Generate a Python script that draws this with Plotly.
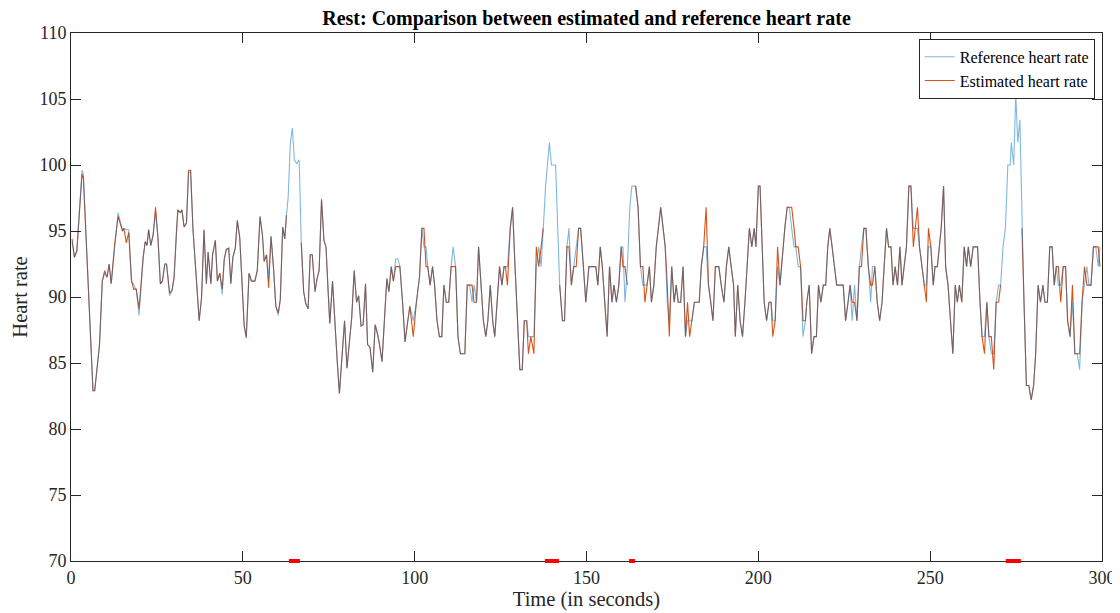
import plotly.graph_objects as go

# time (s), reference HR, estimated HR (None = no estimate)
t_sec = [0.3, 1.0, 1.7, 3.2, 3.6, 6.4, 6.9, 8.3, 9.1, 9.8, 10.5, 11.1, 11.7, 12.7, 13.7, 15.0, 15.4, 16.1, 16.8, 17.6,
         18.2, 19.0, 19.8, 21.0, 21.6, 22.1, 22.6, 23.2, 23.9, 24.6, 25.3, 26.0, 26.6, 27.3, 27.8, 28.7, 29.4, 30.0, 30.7, 31.1,
         31.8, 32.3, 32.9, 33.6, 34.2, 34.8, 35.5, 36.5, 37.3, 38.0, 38.7, 39.4, 39.9, 40.7, 41.2, 42.0, 42.6, 43.3, 44.0, 44.6,
         45.2, 45.9, 46.5, 47.1, 47.8, 48.4, 49.1, 50.4, 51.0, 51.8, 52.5, 53.5, 54.2, 55.0, 55.7, 56.2, 56.9, 57.5, 58.2, 58.9,
         59.6, 60.3, 60.9, 61.6, 62.2, 62.7, 63.2, 63.8, 64.4, 65.0, 65.7, 66.4, 67.0, 67.7, 68.3, 69.0, 69.6, 70.2, 71.0, 71.6,
         72.2, 72.9, 73.6, 74.2, 74.8, 75.3, 76.1, 76.8, 77.5, 78.1, 78.8, 79.6, 80.3, 81.0, 81.7, 82.4, 83.1, 83.7, 84.4, 85.0,
         85.7, 86.3, 87.0, 87.8, 88.5, 89.1, 89.7, 90.5, 91.1, 91.9, 92.5, 93.2, 93.8, 94.5, 95.1, 95.7, 96.5, 97.2, 97.9, 98.6,
         99.6, 100.5, 101.4, 102.1, 102.7, 103.3, 103.8, 104.5, 105.2, 105.8, 106.5, 107.2, 107.9, 108.5, 109.2, 109.9, 110.6, 111.2, 111.9, 112.6,
         113.3, 114.0, 114.6, 115.3, 116.0, 116.7, 117.3, 118.0, 118.6, 119.3, 120.0, 120.7, 121.3, 122.0, 122.7, 123.3, 124.0, 124.7, 125.4, 126.0,
         126.4, 127.0, 127.8, 128.5, 129.2, 129.9, 130.6, 131.3, 131.9, 132.6, 133.1, 133.8, 134.7, 135.4, 136.1, 136.8, 137.4, 138.1, 139.2, 139.8,
         141.0, 142.2, 143.0, 143.6, 144.3, 144.9, 145.6, 146.3, 147.0, 147.7, 148.3, 149.1, 149.8, 150.7, 151.3, 152.7, 153.3, 154.0, 154.6, 155.3,
         156.0, 156.7, 157.4, 158.0, 158.7, 159.4, 160.1, 160.6, 161.2, 161.9, 162.6, 163.2, 164.3, 165.0, 165.7, 166.4, 167.0, 167.6, 168.3, 168.9,
         169.6, 170.3, 170.9, 171.6, 172.3, 172.9, 173.5, 174.1, 174.8, 175.5, 176.1, 176.7, 177.4, 178.1, 178.8, 179.4, 180.0, 180.7, 181.4, 182.8,
         183.4, 184.1, 184.8, 185.5, 186.2, 186.8, 187.5, 188.5, 189.2, 190.0, 190.7, 191.4, 192.1, 192.8, 193.3, 194.0, 194.7, 195.4, 196.1, 196.7,
         197.4, 198.1, 198.8, 199.3, 200.0, 200.5, 201.2, 201.7, 202.4, 203.1, 203.7, 204.2, 204.9, 205.6, 206.3, 207.1, 207.7, 208.4, 209.0, 209.7,
         210.4, 210.9, 211.6, 212.3, 213.0, 213.7, 214.1, 214.8, 215.5, 216.2, 216.9, 217.5, 218.2, 218.9, 219.6, 220.2, 220.8, 221.5, 222.2, 222.8,
         224.7, 225.4, 226.1, 226.7, 227.3, 228.0, 228.7, 229.4, 230.0, 230.7, 231.3, 232.0, 232.7, 233.2, 233.9, 234.6, 235.3, 236.0, 236.6, 237.3,
         237.9, 238.6, 239.2, 239.8, 240.5, 241.2, 241.8, 242.5, 243.1, 243.8, 244.4, 245.1, 246.3, 246.9, 247.6, 248.3, 248.9, 249.5, 250.2, 250.9,
         251.4, 252.1, 253.2, 253.9, 254.5, 255.2, 255.9, 256.6, 257.3, 257.9, 258.5, 259.2, 259.9, 260.6, 261.1, 261.8, 262.5, 263.8, 264.5, 265.1,
         265.8, 266.5, 267.1, 267.8, 268.5, 269.2, 269.9, 270.5, 271.2, 271.9, 272.6, 273.3, 273.6, 274.3, 274.9, 275.5, 276.1, 276.7, 277.3, 278.0,
         278.7, 279.4, 280.1, 280.7, 281.4, 282.1, 282.8, 283.4, 284.1, 284.8, 285.5, 286.1, 286.7, 287.3, 288.0, 288.7, 289.4, 290.0, 290.7, 291.4,
         292.1, 292.8, 293.5, 294.2, 294.9, 295.6, 296.2, 296.8, 297.5, 298.2, 298.9, 299.4]

ref_hr = [94.2, 93.0, 93.5, 99.6, 99.3, 82.9, 82.9, 86.4, 91.2, 91.8, 91.5, 92.5, 91.0, 94.0, 96.4, 95.0, 95.2, 95.1, 95.1, 91.1,
          91.0, 90.5, 88.6, 93.0, 94.2, 93.9, 95.1, 93.9, 94.7, 96.4, 94.5, 91.0, 91.2, 92.5, 92.5, 90.1, 90.5, 91.5, 95.1, 96.6,
          96.4, 96.6, 95.3, 95.6, 99.4, 99.5, 95.1, 91.0, 88.2, 90.0, 95.1, 91.0, 93.4, 91.0, 93.2, 94.3, 91.2, 91.8, 90.2, 92.9,
          93.6, 93.7, 91.0, 93.0, 93.7, 95.8, 94.5, 87.8, 87.0, 91.8, 91.2, 91.2, 92.0, 96.1, 94.7, 92.7, 93.2, 91.4, 94.6, 92.3,
          89.3, 88.6, 89.8, 95.3, 94.4, 96.2, 97.6, 101.6, 102.8, 100.4, 100.1, 100.4, 94.1, 90.4, 89.5, 89.1, 93.2, 93.2, 90.4, 91.4,
          92.0, 97.4, 94.3, 93.8, 90.5, 88.0, 91.2, 87.8, 85.0, 82.7, 85.6, 88.2, 84.6, 86.5, 88.5, 92.0, 89.6, 90.1, 87.8, 87.9,
          91.0, 86.4, 86.2, 84.3, 87.9, 87.3, 86.5, 85.1, 87.8, 91.4, 90.4, 92.3, 91.2, 92.9, 92.9, 92.3, 89.5, 86.6, 88.0, 89.3,
          88.2, 89.6, 91.5, 95.2, 93.8, 93.8, 92.3, 90.9, 92.3, 90.9, 88.2, 87.0, 87.0, 90.9, 89.6, 89.6, 92.3, 93.8, 92.3, 87.0,
          85.7, 85.7, 85.7, 90.9, 90.9, 89.6, 90.9, 89.6, 93.8, 90.9, 88.2, 87.0, 88.2, 90.9, 88.2, 87.0, 89.6, 92.3, 90.9, 92.3,
          92.3, 92.3, 95.2, 96.8, 92.3, 88.2, 84.5, 84.5, 88.2, 88.2, 87.0, 87.0, 87.0, 92.3, 93.8, 92.3, 95.2, 98.4, 101.7, 100.0,
          100.0, 90.9, 88.2, 88.2, 93.8, 95.2, 90.9, 92.3, 93.8, 95.2, 95.2, 92.3, 89.6, 92.3, 92.3, 92.3, 90.9, 93.8, 92.3, 89.6,
          87.0, 92.3, 89.6, 90.9, 89.6, 90.9, 93.8, 93.8, 89.6, 92.3, 96.8, 98.4, 98.4, 96.8, 92.3, 90.9, 90.9, 90.9, 92.3, 89.6,
          90.9, 93.8, 95.2, 96.8, 95.2, 93.8, 89.6, 88.2, 92.3, 89.6, 90.9, 89.6, 89.6, 92.3, 87.0, 88.2, 88.2, 88.2, 89.6, 89.6,
          92.3, 93.8, 93.8, 90.9, 89.6, 88.2, 92.3, 92.3, 90.9, 89.6, 92.3, 93.8, 92.3, 90.9, 87.0, 90.9, 88.2, 87.0, 89.6, 92.3,
          95.2, 93.8, 95.2, 93.8, 98.4, 98.4, 92.3, 89.6, 88.2, 89.6, 89.6, 88.2, 88.2, 92.3, 90.9, 93.8, 95.2, 96.8, 96.8, 95.2,
          93.8, 93.8, 92.3, 92.3, 87.0, 88.2, 89.6, 90.9, 85.7, 87.0, 87.0, 90.9, 89.6, 90.9, 90.9, 93.8, 95.2, 93.8, 92.3, 90.9,
          90.9, 88.2, 89.6, 90.9, 88.2, 90.9, 88.2, 92.3, 93.8, 95.2, 95.2, 92.3, 89.6, 92.3, 92.3, 89.6, 88.2, 89.6, 92.3, 95.2,
          93.8, 93.8, 90.9, 92.3, 90.9, 93.8, 90.9, 92.3, 93.8, 98.4, 98.4, 95.2, 95.2, 93.8, 92.3, 90.9, 90.9, 93.8, 93.8, 90.9,
          92.3, 92.3, 95.2, 98.4, 92.3, 90.9, 88.2, 85.7, 90.9, 89.6, 90.9, 89.6, 93.8, 92.3, 93.8, 92.3, 93.8, 93.8, 89.6, 87.0,
          87.0, 89.6, 87.0, 85.7, 85.7, 89.6, 90.9, 90.9, 93.8, 95.2, 100.0, 100.0, 101.7, 100.0, 105.3, 101.7, 103.4, 95.2, 89.6, 83.3,
          83.3, 82.2, 83.3, 85.7, 90.9, 89.6, 90.9, 89.6, 89.6, 93.8, 93.8, 90.9, 92.3, 90.9, 90.9, 92.3, 92.3, 88.2, 87.0, 89.6,
          85.7, 85.7, 84.5, 89.6, 90.9, 92.3, 90.9, 90.9, 93.8, 93.8, 92.3, 93.8]

est_hr = [94.4, 93.0, 93.5, 99.3, 99.0, 82.9, 82.9, 86.4, 91.2, 92.0, 91.5, 92.5, 91.0, 94.0, 96.1, 95.0, 95.2, 94.1, 94.9, 91.3,
          90.6, 90.6, 89.1, 93.0, 94.2, 93.9, 95.1, 93.9, 94.7, 96.8, 94.5, 91.0, 91.2, 92.5, 92.5, 90.3, 90.5, 91.5, 95.1, 96.6,
          96.4, 96.6, 95.3, 95.6, 99.6, 99.6, 95.1, 91.0, 88.2, 90.0, 95.1, 91.0, 93.4, 91.0, 93.2, 94.3, 91.2, 91.8, 90.6, 92.9,
          93.6, 93.7, 91.0, 93.0, 93.7, 95.8, 94.5, 87.8, 86.9, 91.8, 91.2, 91.2, 92.0, 96.1, 94.7, 92.7, 93.2, 90.7, 94.6, 92.3,
          89.3, 88.8, 89.8, 95.3, 94.4, 96.2, None, None, None, None, None, None, 94.1, 90.4, 89.5, 89.1, 93.2, 93.2, 90.4, 91.4,
          92.0, 97.4, 94.3, 93.8, 90.5, 88.0, 91.2, 87.8, 85.0, 82.7, 85.6, 88.2, 84.6, 86.5, 88.5, 92.0, 89.6, 90.1, 87.8, 87.9,
          91.0, 86.4, 86.2, 84.3, 87.9, 87.3, 86.5, 85.1, 87.8, 91.4, 90.4, 92.3, 91.2, 92.3, 92.3, 92.3, 89.5, 86.6, 88.0, 89.3,
          87.0, 89.6, 91.5, 95.2, 95.2, 92.3, 92.3, 90.9, 92.3, 90.9, 88.2, 87.0, 87.0, 90.9, 89.6, 89.6, 92.3, 92.3, 92.3, 87.0,
          85.7, 85.7, 85.7, 90.9, 90.9, 90.9, 89.6, 89.6, 93.8, 90.9, 88.2, 87.0, 88.2, 90.9, 88.2, 87.0, 89.6, 92.3, 90.9, 92.3,
          92.3, 90.9, 95.2, 96.8, 92.3, 88.2, 84.5, 84.5, 88.2, 88.2, 85.7, 87.0, 85.7, 93.8, 92.3, 93.8, 95.2, None, None, None,
          None, 90.9, 88.2, 88.2, 93.8, 93.8, 90.9, 92.3, 92.3, 95.2, 95.2, 92.3, 89.6, 92.3, 92.3, 92.3, 90.9, 93.8, 92.3, 89.6,
          87.0, 92.3, 89.6, 90.9, 89.6, 90.9, 93.8, 92.3, 92.3, 90.9, None, None, 98.4, 96.8, 92.3, 92.3, 89.6, 90.9, 92.3, 89.6,
          90.9, 93.8, 95.2, 96.8, 95.2, 93.8, 90.9, 87.0, 92.3, 89.6, 90.9, 89.6, 89.6, 92.3, 87.0, 89.6, 87.0, 88.2, 89.6, 89.6,
          92.3, 93.8, 96.8, 90.9, 89.6, 88.2, 92.3, 92.3, 90.9, 89.6, 92.3, 93.8, 92.3, 90.9, 87.0, 90.9, 88.2, 87.0, 89.6, 92.3,
          95.2, 93.8, 95.2, 93.8, 98.4, 98.4, 92.3, 89.6, 88.2, 89.6, 89.6, 87.0, 88.2, 93.8, 90.9, 93.8, 95.2, 96.8, 96.8, 96.8,
          95.2, 93.8, 93.8, 92.3, 88.2, 88.2, 89.6, 90.9, 85.7, 87.0, 87.0, 90.9, 89.6, 90.9, 90.9, 93.8, 95.2, 93.8, 92.3, 90.9,
          90.9, 88.2, 89.6, 90.9, 89.6, 89.6, 88.2, 92.3, 92.3, 95.2, 95.2, 92.3, 90.9, 90.9, 92.3, 89.6, 88.2, 89.6, 92.3, 95.2,
          93.8, 93.8, 90.9, 92.3, 90.9, 93.8, 90.9, 92.3, 93.8, 98.4, 98.4, 93.8, 96.8, 93.8, 92.3, 90.9, 89.6, 95.2, 93.8, 90.9,
          92.3, 92.3, 95.2, 98.4, 92.3, 90.9, 88.2, 85.7, 90.9, 89.6, 90.9, 89.6, 93.8, 92.3, 93.8, 92.3, 93.8, 93.8, 89.6, 87.0,
          85.7, 89.6, 87.0, 87.0, 84.5, 89.6, 89.6, 90.9, None, None, None, None, None, None, None, None, None, 95.2, 89.6, 83.3,
          83.3, 82.2, 83.3, 85.7, 90.9, 89.6, 90.9, 89.6, 89.6, 93.8, 93.8, 90.9, 92.3, 92.3, 89.6, 92.3, 92.3, 88.2, 87.0, 90.9,
          85.7, 85.7, 85.7, 89.6, 92.3, 90.9, 90.9, 90.9, 93.8, 93.8, 93.8, 92.3]

# periods (s) with no estimate, flagged in red on the time axis
gap_start = [63.4, 137.9, 162.4, 272.0]
gap_end = [66.6, 142.0, 164.1, 276.4]

x_ticks = [0, 50, 100, 150, 200, 250, 300]
y_ticks = [70, 75, 80, 85, 90, 95, 100, 105, 110]

FONT = "Liberation Serif, Times New Roman, serif"

fig = go.Figure()
fig.add_trace(go.Scatter(x=t_sec, y=est_hr, mode="lines", name="Estimated heart rate",
                         line=dict(color="#D95319", width=1.1), legendrank=2, connectgaps=False))
fig.add_trace(go.Scatter(x=t_sec, y=ref_hr, mode="lines", name="Reference heart rate",
                         line=dict(color="rgba(0,114,189,0.5)", width=1.1), legendrank=1))

for a, b in zip(gap_start, gap_end):
    fig.add_shape(type="line", xref="x", yref="paper", x0=a, x1=b, y0=0, y1=0,
                  line=dict(color="#FF0000", width=4), layer="above")

axis_common = dict(showgrid=False, zeroline=False, showline=True, linecolor="#262626", linewidth=1,
                   mirror="ticks", ticks="inside", ticklen=10, tickcolor="#262626", tickwidth=1,
                   automargin=False,
                   tickfont=dict(family=FONT, size=18, color="#262626"))

fig.update_xaxes(range=[0, 300], tickvals=x_ticks,
                 title=dict(text="Time (in seconds)", font=dict(family=FONT, size=20.5, color="#262626"), standoff=2),
                 **axis_common)
fig.update_yaxes(range=[70, 110], tickvals=y_ticks,
                 title=dict(text="Heart rate", font=dict(family=FONT, size=20.5, color="#262626"), standoff=6),
                 **axis_common)

# the page adds an 8 px body margin, so the figure is 8 px smaller and margins shifted
fig.update_layout(
    width=1112, height=605,
    margin=dict(l=63, r=18, t=25, b=52, autoexpand=False),
    paper_bgcolor="white", plot_bgcolor="white",
    title=dict(text="<b>Rest: Comparison between estimated and reference heart rate</b>",
               font=dict(family=FONT, size=20, color="black"), x=0.5, xref="paper", xanchor="center",
               y=1 - 10 / 605, yref="container", yanchor="middle", automargin=False),
    legend=dict(x=0.993, y=0.989, xanchor="right", yanchor="top", bgcolor="white",
                bordercolor="#262626", borderwidth=1, font=dict(family=FONT, size=16, color="black"),
                tracegroupgap=0, itemwidth=30),
    showlegend=True,
)

fig.write_html("out.html")
